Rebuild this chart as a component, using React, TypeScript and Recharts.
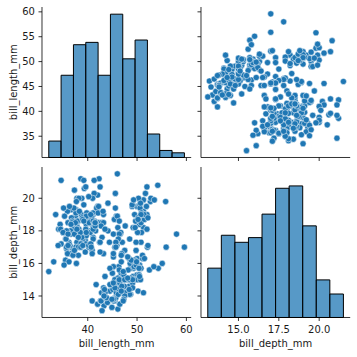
import React from "react";
import {
  ComposedChart,
  ScatterChart,
  Scatter,
  XAxis,
  YAxis,
  ReferenceArea,
} from "recharts";

const adelieLength = [
  39.1, 39.5, 40.3, 36.7, 39.3, 38.9, 39.2, 34.1, 42.0, 37.8, 37.8, 41.1, 38.6, 34.6, 36.6, 38.7,
  42.5, 34.4, 46.0, 37.8, 37.7, 35.9, 38.2, 38.8, 35.3, 40.6, 40.5, 37.9, 40.5, 39.5, 37.2, 39.5,
  40.9, 36.4, 39.2, 38.8, 42.2, 37.6, 39.8, 36.5, 40.8, 36.0, 44.1, 37.0, 39.6, 41.1, 37.5, 36.0,
  42.3, 39.6, 40.1, 35.0, 42.0, 34.5, 41.4, 39.0, 40.6, 36.5, 37.6, 35.7, 41.3, 37.6, 41.1, 36.4,
  41.6, 35.5, 41.1, 35.9, 41.8, 33.5, 39.7, 39.6, 45.8, 35.5, 42.8, 40.9, 37.2, 36.2, 42.1, 34.6,
  42.9, 36.7, 35.1, 37.3, 41.3, 36.3, 36.9, 38.3, 38.9, 35.7, 41.1, 34.0, 39.6, 36.2, 40.8, 38.1,
  40.3, 33.1, 43.2, 35.0, 41.0, 37.7, 37.8, 37.9, 39.7, 38.6, 38.2, 38.1, 43.2, 38.1, 45.6, 39.7,
  42.2, 39.6, 42.7, 38.6, 37.3, 35.7, 41.1, 36.2, 37.7, 40.2, 41.4, 35.2, 40.6, 38.8, 41.5, 39.0,
  44.1, 38.5, 43.1, 36.8, 37.5, 38.1, 41.1, 35.6, 40.2, 37.0, 39.7, 40.2, 40.6, 32.1, 40.7, 37.3,
  39.0, 39.2, 36.6, 36.0, 37.8, 36.0, 41.5,
];
const adelieDepth = [
  18.7, 17.4, 18.0, 19.3, 20.6, 17.8, 19.6, 18.1, 20.2, 17.1, 17.3, 17.6, 21.2, 21.1, 17.8, 19.0,
  20.7, 18.4, 21.5, 18.3, 18.7, 19.2, 18.1, 17.2, 18.9, 18.6, 17.9, 18.6, 18.9, 16.7, 18.1, 17.8,
  18.9, 17.0, 21.1, 20.0, 18.5, 19.3, 19.1, 18.0, 18.4, 18.5, 19.7, 16.9, 18.8, 19.0, 18.9, 17.9,
  21.2, 17.7, 18.9, 17.9, 19.5, 18.1, 18.6, 17.5, 18.8, 16.6, 19.1, 16.9, 21.1, 17.0, 18.2, 17.1,
  18.0, 16.2, 19.1, 16.6, 19.4, 19.0, 18.4, 17.2, 18.9, 17.5, 18.5, 16.8, 19.4, 16.1, 19.1, 17.2,
  17.6, 18.8, 19.4, 17.8, 20.3, 19.5, 18.6, 19.2, 18.8, 18.0, 18.1, 17.1, 18.1, 17.3, 18.9, 18.6,
  18.5, 16.1, 18.5, 17.9, 20.0, 16.0, 20.0, 18.6, 18.9, 17.2, 20.0, 17.0, 19.0, 16.5, 20.3, 17.7,
  19.5, 20.7, 18.3, 17.0, 20.5, 17.0, 18.6, 17.2, 19.8, 17.0, 18.5, 15.9, 19.0, 17.6, 18.3, 17.1,
  18.0, 17.9, 19.2, 18.5, 18.5, 17.6, 17.5, 17.5, 20.1, 16.5, 17.9, 17.1, 17.2, 15.5, 17.0, 16.8,
  18.7, 18.6, 18.4, 17.8, 18.1, 17.1, 18.5,
];
const gentooLength = [
  46.1, 50.0, 48.7, 50.0, 47.6, 46.5, 45.4, 46.7, 43.3, 46.8, 40.9, 49.0, 45.5, 48.4, 45.8, 49.3,
  42.0, 49.2, 46.2, 48.7, 50.2, 45.1, 46.5, 46.3, 42.9, 46.1, 44.5, 47.8, 48.2, 50.0, 47.3, 42.8,
  45.1, 59.6, 49.1, 48.4, 42.6, 44.4, 44.0, 48.7, 42.7, 49.6, 45.3, 49.6, 50.5, 43.6, 45.5, 50.5,
  44.9, 45.2, 46.6, 48.5, 45.1, 50.1, 46.5, 45.0, 43.8, 45.5, 43.2, 50.4, 45.3, 46.2, 45.7, 54.3,
  45.8, 49.8, 46.2, 49.5, 43.5, 50.7, 47.7, 46.4, 48.2, 46.5, 46.4, 48.6, 47.5, 51.1, 45.2, 45.2,
  49.1, 52.5, 47.4, 50.0, 44.9, 50.8, 43.4, 51.3, 47.5, 52.1, 47.5, 52.2, 45.5, 49.5, 44.5, 50.8,
  49.4, 46.9, 48.4, 51.1, 48.5, 55.9, 47.2, 49.1, 47.3, 46.8, 41.7, 53.4, 43.3, 48.1, 50.5, 49.8,
  43.5, 51.5, 46.2, 55.1, 44.5, 48.8, 47.2, 46.8, 50.4, 45.2, 49.9,
];
const gentooDepth = [
  13.2, 16.3, 14.1, 15.2, 14.5, 13.5, 14.6, 15.3, 13.4, 15.4, 13.7, 16.1, 13.7, 14.6, 14.6, 15.7,
  13.5, 15.2, 14.5, 15.1, 14.3, 14.5, 14.5, 15.8, 13.1, 15.1, 14.3, 15.0, 14.3, 15.3, 15.3, 14.2,
  14.5, 17.0, 14.8, 16.3, 13.7, 17.3, 13.6, 15.7, 13.7, 16.0, 13.7, 15.0, 15.9, 13.9, 13.9, 15.9,
  13.3, 15.8, 14.2, 14.1, 14.4, 15.0, 14.4, 15.4, 13.9, 15.0, 14.5, 15.3, 13.8, 14.9, 13.9, 15.7,
  14.2, 16.8, 14.4, 16.2, 14.2, 15.0, 15.0, 15.6, 15.6, 14.8, 15.0, 16.0, 14.2, 16.3, 13.8, 16.4,
  14.5, 15.6, 14.6, 15.9, 13.8, 17.3, 14.4, 14.2, 14.0, 17.0, 15.0, 17.1, 14.5, 16.1, 14.7, 15.7,
  15.8, 14.6, 14.4, 16.5, 15.0, 17.0, 15.5, 15.0, 13.8, 16.1, 14.7, 15.8, 14.0, 15.1, 15.2, 15.9,
  15.2, 16.3, 14.1, 16.0, 15.7, 16.2, 13.7, 14.3, 15.7, 14.8, 16.1,
];
const chinstrapLength = [
  46.5, 50.0, 51.3, 45.4, 52.7, 45.2, 46.1, 51.3, 46.0, 51.3, 46.6, 51.7, 47.0, 52.0, 45.9, 50.5,
  50.3, 58.0, 46.4, 49.2, 42.4, 48.5, 43.2, 50.6, 46.7, 52.0, 50.5, 49.5, 46.4, 52.8, 40.9, 54.2,
  42.5, 51.0, 49.7, 47.5, 47.6, 52.0, 46.9, 53.5, 49.0, 46.2, 50.9, 45.5, 50.9, 50.8, 50.1, 49.0,
  51.5, 49.8, 48.1, 51.4, 45.7, 50.7, 42.5, 52.2, 45.2, 49.3, 50.2, 45.6, 51.9, 46.8, 45.7, 55.8,
  43.5, 49.6, 50.8, 50.2,
];
const chinstrapDepth = [
  17.9, 19.5, 19.2, 18.7, 19.8, 17.8, 18.2, 18.2, 18.9, 19.9, 17.8, 20.3, 17.3, 18.1, 17.1, 19.6,
  20.0, 17.8, 18.6, 18.2, 17.3, 17.5, 16.6, 19.4, 17.9, 19.0, 18.4, 19.0, 17.8, 20.0, 16.6, 20.8,
  16.7, 18.8, 18.6, 16.8, 18.3, 20.7, 16.6, 19.9, 19.5, 17.5, 19.1, 17.0, 17.9, 18.5, 17.9, 19.6,
  18.7, 17.3, 16.4, 19.0, 17.3, 19.7, 17.3, 18.8, 16.6, 19.9, 18.8, 19.4, 19.5, 16.5, 17.0, 19.8,
  18.1, 18.2, 19.0, 18.7,
];

// histogram bins
const lengthEdges = [32.1, 34.6, 37.1, 39.6, 42.1, 44.6, 47.1, 49.6, 52.1, 54.6, 57.1, 59.6];
const lengthCounts = [7, 35, 48, 49, 35, 61, 42, 50, 10, 3, 2];
const depthEdges = [13.1, 13.94, 14.78, 15.62, 16.46, 17.3, 18.14, 18.98, 19.82, 20.66, 21.5];
const depthCounts = [21, 35, 32, 34, 44, 55, 56, 39, 16, 10];

// ticks
const lengthTicks = [35, 40, 45, 50, 55, 60];
const lengthXTicks = [40, 50, 60];
const depthTicks = [14, 16, 18, 20];
const depthXTicks = [15, 17.5, 20];

const lengthDomain = [30.725, 60.975];
const depthDomain = [12.68, 21.92];
const countDomain = [0, 64.05];

const allLength = [...adelieLength, ...gentooLength, ...chinstrapLength];
const allDepth = [...adelieDepth, ...gentooDepth, ...chinstrapDepth];

const BLUE = "#1f77b4";
const COLS = [42.3, 201.3];
const ROWS = [7.4, 167.3];
const PW = 149.2;
const PH = 150.5;
const AX_W = 42;
const AX_H = 40;
const PAD = 5;

const axisLine = { stroke: "#000", strokeWidth: 0.8 };
const tickStyle = { fontSize: 10, fill: "#1a1a1a" };
const blank = () => "";

const Dot = (props: any) => (
  <circle cx={props.cx} cy={props.cy} r={3.1} fill={BLUE} stroke="#fff" strokeWidth={0.5} />
);
const Nothing = () => <g />;

function Frame({ col, row, children }: { col: number; row: number; children: React.ReactNode }) {
  return (
    <div
      style={{
        position: "absolute",
        left: COLS[col] - AX_W,
        top: ROWS[row] - PAD,
      }}
    >
      {children}
    </div>
  );
}

const chartSize = {
  width: AX_W + PW + PAD,
  height: PAD + PH + AX_H,
  margin: { top: PAD, right: PAD, bottom: 0, left: 0 },
};

function xAxisProps(domain: number[], ticks: number[], labelled: boolean, label: string, fmt?: (v: number) => string) {
  return {
    type: "number" as const,
    dataKey: "x",
    domain,
    ticks,
    allowDataOverflow: true,
    height: AX_H,
    axisLine,
    tickLine: axisLine,
    tickSize: 3.5,
    tickMargin: 5.2,
    tick: tickStyle,
    tickFormatter: labelled ? fmt || ((v: number) => String(v)) : blank,
    label: labelled
      ? { value: label, position: "insideBottom" as const, offset: 10, fontSize: 10, fill: "#1a1a1a" }
      : undefined,
  };
}

function yAxisProps(domain: number[], ticks: number[], labelled: boolean, label: string) {
  return {
    type: "number" as const,
    dataKey: "y",
    domain,
    ticks,
    allowDataOverflow: true,
    width: AX_W,
    axisLine,
    tickLine: axisLine,
    tickSize: 3.5,
    tickMargin: 3.5,
    tick: tickStyle,
    tickFormatter: labelled ? (v: number) => String(v) : blank,
    label: labelled
      ? {
          value: label,
          angle: -90,
          position: "insideLeft" as const,
          offset: 13.4,
          fontSize: 10,
          fill: "#1a1a1a",
          style: { textAnchor: "middle" },
        }
      : undefined,
  };
}

function Histogram({ edges, counts, xDomain, xTicks, yDomain, yTicks, xLabelled, yLabelled, xLabel, yLabel, fmt }: any) {
  const bins = counts.map((c: number, i: number) => ({
    x: (edges[i] + edges[i + 1]) / 2,
    lo: edges[i],
    hi: edges[i + 1],
    y: c,
  }));
  return (
    <ComposedChart {...chartSize} data={bins}>
      <XAxis {...xAxisProps(xDomain, xTicks, xLabelled, xLabel, fmt)} />
      <YAxis {...yAxisProps(yDomain, yTicks, yLabelled, yLabel)} />
      <YAxis yAxisId="count" type="number" dataKey="y" domain={countDomain} hide allowDataOverflow />
      <Scatter data={bins} dataKey="y" yAxisId="count" shape={Nothing} isAnimationActive={false} />
      {bins.map((b: any, i: number) => (
        <ReferenceArea
          key={i}
          x1={b.lo}
          x2={b.hi}
          y1={0}
          y2={b.y}
          yAxisId="count"
          fill={BLUE}
          fillOpacity={0.75}
          stroke="#000"
          strokeWidth={1}
          ifOverflow="visible"
        />
      ))}
    </ComposedChart>
  );
}

function Pairs({ xs, ys, xDomain, xTicks, yDomain, yTicks, xLabelled, yLabelled, xLabel, yLabel, fmt }: any) {
  const pts = xs.map((x: number, i: number) => ({ x, y: ys[i] }));
  return (
    <ScatterChart {...chartSize}>
      <XAxis {...xAxisProps(xDomain, xTicks, xLabelled, xLabel, fmt)} />
      <YAxis {...yAxisProps(yDomain, yTicks, yLabelled, yLabel)} />
      <Scatter data={pts} shape={Dot} isAnimationActive={false} />
    </ScatterChart>
  );
}

export default function App() {
  const fmt1 = (v: number) => v.toFixed(1);
  return (
    <div
      style={{
        position: "fixed",
        left: 0,
        top: 0,
        width: 357,
        height: 357,
        background: "#fff",
        fontFamily: "DejaVu Sans",
      }}
    >
      <Frame col={0} row={0}>
        <Histogram
          edges={lengthEdges}
          counts={lengthCounts}
          xDomain={lengthDomain}
          xTicks={lengthXTicks}
          yDomain={lengthDomain}
          yTicks={lengthTicks}
          xLabelled={false}
          yLabelled={true}
          xLabel=""
          yLabel="bill_length_mm"
        />
      </Frame>
      <Frame col={1} row={0}>
        <Pairs
          xs={allDepth}
          ys={allLength}
          xDomain={depthDomain}
          xTicks={depthXTicks}
          yDomain={lengthDomain}
          yTicks={lengthTicks}
          xLabelled={false}
          yLabelled={false}
          xLabel=""
          yLabel=""
        />
      </Frame>
      <Frame col={0} row={1}>
        <Pairs
          xs={allLength}
          ys={allDepth}
          xDomain={lengthDomain}
          xTicks={lengthXTicks}
          yDomain={depthDomain}
          yTicks={depthTicks}
          xLabelled={true}
          yLabelled={true}
          xLabel="bill_length_mm"
          yLabel="bill_depth_mm"
        />
      </Frame>
      <Frame col={1} row={1}>
        <Histogram
          edges={depthEdges}
          counts={depthCounts}
          xDomain={depthDomain}
          xTicks={depthXTicks}
          yDomain={depthDomain}
          yTicks={depthTicks}
          xLabelled={true}
          yLabelled={false}
          xLabel="bill_depth_mm"
          yLabel=""
          fmt={fmt1}
        />
      </Frame>
    </div>
  );
}
